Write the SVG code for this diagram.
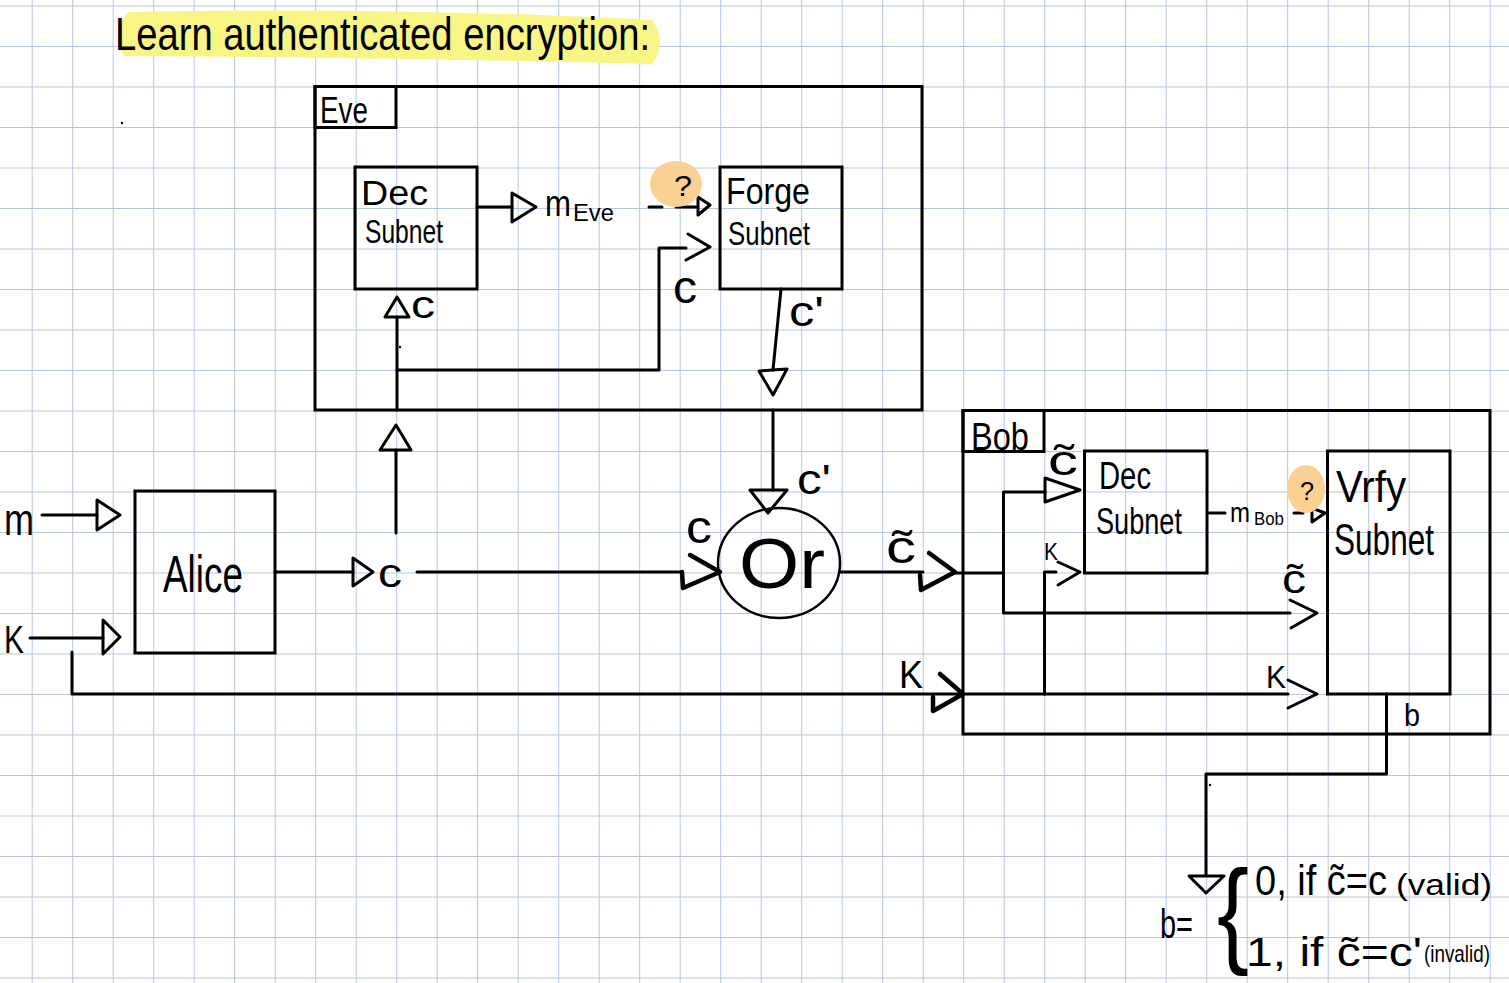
<svg xmlns="http://www.w3.org/2000/svg" width="1509" height="983" viewBox="0 0 1509 983">
<defs>
<pattern id="grid" x="31.7" y="5.5" width="40.5" height="40.5" patternUnits="userSpaceOnUse">
<path d="M0,0 H40.5 M0,0 V40.5" fill="none" stroke="#b6c6df" stroke-width="2"/>
</pattern>
</defs>
<style>
.ln{fill:none;stroke:#000;stroke-width:3;stroke-linecap:round;stroke-linejoin:round}
.bx{fill:none;stroke:#000;stroke-width:3}
.ah{fill:none;stroke:#000;stroke-width:3;stroke-linejoin:round;stroke-linecap:round}
.ahb{fill:none;stroke:#000;stroke-width:4.5;stroke-linejoin:round;stroke-linecap:round}
text{font-family:"Liberation Sans","DejaVu Sans",sans-serif;fill:#000}
.blob{fill:#fbd193}
</style>
<rect width="1509" height="983" fill="#fff"/>
<rect width="1509" height="983" fill="url(#grid)"/>

<g id="title">
<path d="M128,12 C300,8 500,12 652,20 Q668,42 652,64 C500,60 300,57 124,56 Q110,34 128,12 Z" fill="#f8f585"/>
<text x="115" y="50" font-size="46" textLength="535" lengthAdjust="spacingAndGlyphs">Learn authenticated encryption:</text>
</g>

<g id="marks">
<circle cx="122" cy="123" r="1.2" fill="#000"/>
<circle cx="400" cy="347" r="1.2" fill="#000"/>
<circle cx="1210" cy="785" r="1.2" fill="#000"/>
</g>

<g id="connectors">
<path class="ln" d="M42,515 H97"/>
<path class="ln" d="M30,638 H103"/>
<path class="ln" d="M72,652 V694 H1288"/>
<path class="ln" d="M275,572 H353"/>
<path class="ln" d="M417,572 H682"/>
<path class="ln" d="M396,533 V450"/>
<path class="ln" d="M397,410 V317"/>
<path class="ln" d="M397,370 H659 V248 H686"/>
<path class="ln" d="M477,207 H512"/>
<path class="ln" d="M649,207 H662 M676,207 H696"/>
<path class="ln" d="M781,289 L773,370"/>
<path class="ln" d="M773,410 V490"/>
<path class="ln" d="M840,572 H923"/>
<path class="ln" d="M955,573 H1003.5"/>
<path class="ln" d="M1045,492 H1003.5 V613 H1290"/>
<path class="ln" d="M1044.5,694 V572 H1056"/>
<path class="ln" d="M1209,513 H1225 M1294,513 H1303"/>
<path class="ln" d="M1386.5,694 V774 H1206 V875"/>
<path class="ah" d="M97,500 L120,515 L97,530 Z"/>
<path class="ah" d="M103,620 L120,637 L103,654 Z"/>
<path class="ah" d="M353,558 L373,572 L353,586 Z"/>
<path class="ah" d="M380,450 L396,425 L411,450 Z"/>
<path class="ah" d="M385,317 L397,297 L409,317 Z"/>
<path class="ah" d="M512,193 L536,207 L512,222 Z"/>
<path class="ah" d="M698,197 L710,205 L698,215 Z"/>
<path class="ah" d="M688,234 L710,247 L686,260"/>
<path class="ah" d="M759,371 L773,395 L787,369 Z"/>
<path class="ah" d="M750,490 L768,513 L787,490 Z"/>
<path class="ahb" d="M690,555 L720,572 L683,588 L682,572"/>
<path class="ahb" d="M929,553 L955,572 L921,590 L920,575"/>
<path class="ahb" d="M940,674 L963,694 L933,711 L933,697"/>
<path class="ah" d="M1045,478 L1080,490 L1045,502 Z"/>
<path class="ah" d="M1058,562 L1080,572 L1058,585"/>
<path class="ah" d="M1290,600 L1317,613 L1291,628"/>
<path class="ah" d="M1288,680 L1317,694 L1288,708"/>
<path class="ah" d="M1312,508 L1325,513 L1312,522 Z"/>
<path class="ah" d="M1189,876 L1206,893 L1224,876 Z"/>
</g>

<g id="alice">
<rect class="bx" x="135" y="491" width="140" height="162"/>
<text x="163" y="592" font-size="52" textLength="80" lengthAdjust="spacingAndGlyphs">Alice</text>
</g>

<g id="inputs">
<text x="4" y="535" font-size="44" textLength="30" lengthAdjust="spacingAndGlyphs">m</text>
<text x="4" y="653" font-size="38" textLength="20" lengthAdjust="spacingAndGlyphs">K</text>
<text x="378" y="587" font-size="40" textLength="24" lengthAdjust="spacingAndGlyphs">c</text>
</g>

<g id="eve">
<rect class="bx" x="315" y="86.5" width="607" height="323.5"/>
<rect class="bx" x="315" y="86.5" width="81" height="41"/>
<text x="320" y="123" font-size="36" textLength="48" lengthAdjust="spacingAndGlyphs">Eve</text>
<text x="411" y="318" font-size="38" textLength="24" lengthAdjust="spacingAndGlyphs">c</text>
<text x="545" y="216" font-size="36" textLength="26" lengthAdjust="spacingAndGlyphs">m</text>
<text x="573" y="221" font-size="24" textLength="41" lengthAdjust="spacingAndGlyphs">Eve</text>
<ellipse class="blob" cx="676" cy="184" rx="26" ry="23"/>
<text x="674" y="196" font-size="30" textLength="18" lengthAdjust="spacingAndGlyphs">?</text>
<text x="673" y="303" font-size="46" textLength="24" lengthAdjust="spacingAndGlyphs">c</text>
<text x="789" y="326" font-size="42" textLength="35" lengthAdjust="spacingAndGlyphs">c'</text>
</g>

<g id="eve-dec">
<rect class="bx" x="355" y="167" width="122" height="122"/>
<text x="361" y="205" font-size="35" textLength="67" lengthAdjust="spacingAndGlyphs">Dec</text>
<text x="365" y="243" font-size="33" textLength="78" lengthAdjust="spacingAndGlyphs">Subnet</text>
</g>

<g id="eve-forge">
<rect class="bx" x="720" y="167" width="122" height="122"/>
<text x="726" y="204" font-size="37" textLength="84" lengthAdjust="spacingAndGlyphs">Forge</text>
<text x="728" y="245" font-size="33" textLength="82" lengthAdjust="spacingAndGlyphs">Subnet</text>
</g>

<g id="or">
<ellipse cx="779" cy="563" rx="61" ry="55" fill="none" stroke="#000" stroke-width="2.5"/>
<text x="739" y="588" font-size="70" textLength="86" lengthAdjust="spacingAndGlyphs">Or</text>
<text x="686" y="543" font-size="46" textLength="26" lengthAdjust="spacingAndGlyphs">c</text>
<text x="797" y="494" font-size="42" textLength="34" lengthAdjust="spacingAndGlyphs">c'</text>
<text x="886" y="563" font-size="46" textLength="30" lengthAdjust="spacingAndGlyphs">c̃</text>
<text x="899" y="688" font-size="38" textLength="24" lengthAdjust="spacingAndGlyphs">K</text>
</g>

<g id="bob">
<rect class="bx" x="963" y="410.5" width="527" height="323.5"/>
<rect class="bx" x="963" y="410.5" width="81" height="41"/>
<text x="971" y="450" font-size="38" textLength="58" lengthAdjust="spacingAndGlyphs">Bob</text>
<text x="1048" y="475" font-size="42" textLength="30" lengthAdjust="spacingAndGlyphs">c̃</text>
<text x="1044" y="560" font-size="24" textLength="14" lengthAdjust="spacingAndGlyphs">K</text>
<text x="1230" y="522" font-size="28" textLength="20" lengthAdjust="spacingAndGlyphs">m</text>
<text x="1254" y="525" font-size="18" textLength="30" lengthAdjust="spacingAndGlyphs">Bob</text>
<ellipse class="blob" cx="1306" cy="489" rx="19" ry="24"/>
<text x="1300" y="500" font-size="26" textLength="14" lengthAdjust="spacingAndGlyphs">?</text>
<text x="1282" y="593" font-size="40" textLength="24" lengthAdjust="spacingAndGlyphs">c̃</text>
<text x="1266" y="688" font-size="32" textLength="20" lengthAdjust="spacingAndGlyphs">K</text>
<text x="1404" y="726" font-size="32" textLength="16" lengthAdjust="spacingAndGlyphs">b</text>
</g>

<g id="bob-dec">
<rect class="bx" x="1084.5" y="451" width="122.5" height="122"/>
<text x="1099" y="489" font-size="39" textLength="52" lengthAdjust="spacingAndGlyphs">Dec</text>
<text x="1096" y="534" font-size="37" textLength="86" lengthAdjust="spacingAndGlyphs">Subnet</text>
</g>

<g id="bob-vrfy">
<rect class="bx" x="1327.5" y="451" width="122.5" height="243"/>
<text x="1336" y="502" font-size="44" textLength="70" lengthAdjust="spacingAndGlyphs">Vrfy</text>
<text x="1334" y="555" font-size="44" textLength="100" lengthAdjust="spacingAndGlyphs">Subnet</text>
</g>

<g id="result">
<text x="1160" y="938" font-size="40" textLength="33" lengthAdjust="spacingAndGlyphs">b=</text>
<text x="1217" y="952" font-size="116" textLength="32" lengthAdjust="spacingAndGlyphs">{</text>
<text x="1255" y="895" font-size="42" textLength="132" lengthAdjust="spacingAndGlyphs">0, if c̃=c</text>
<text x="1396" y="895" font-size="30" textLength="96" lengthAdjust="spacingAndGlyphs">(valid)</text>
<text x="1246" y="966" font-size="40" textLength="176" lengthAdjust="spacingAndGlyphs">1, if c̃=c'</text>
<text x="1424" y="962" font-size="24" textLength="66" lengthAdjust="spacingAndGlyphs">(invalid)</text>
</g>
</svg>
